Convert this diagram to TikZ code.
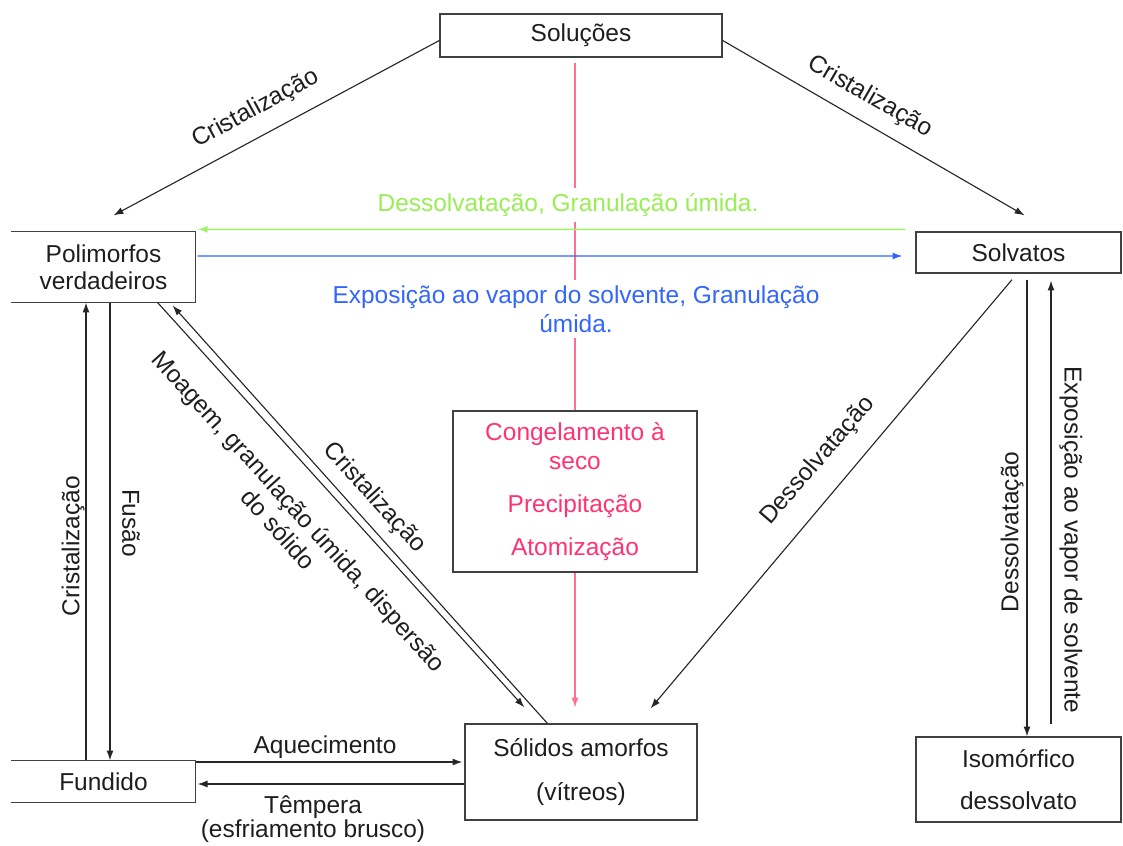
\documentclass[tikz,border=0pt]{standalone}
\usepackage{fontspec}
\setmainfont{Liberation Sans}
\usepackage{xcolor}
\usetikzlibrary{arrows.meta, positioning, calc}

\definecolor{txtgray}{HTML}{1E1E1E}
\definecolor{drygreen}{HTML}{99EE55}
\definecolor{drygreenline}{HTML}{9FF26A}
\definecolor{vaporblue}{HTML}{3366FF}
\definecolor{amorfred}{HTML}{FF3372}
\definecolor{amorfline}{HTML}{FF6F90}

\tikzset{
  box/.style={draw=black!75, line width=0.9pt, align=center, inner sep=0pt, text=txtgray},
  lbl/.style={align=center, inner sep=1pt, text=txtgray},
  arr/.style={-{Latex[length=7pt,width=5pt]}, line width=0.8pt, draw=black!85},
}

\begin{document}
\begin{tikzpicture}[x=0.025cm, y=-0.025cm, font=\fontsize{17.4}{19.5}\selectfont]
    \useasboundingbox (0,0) rectangle (1123,846);

    % States
    \node[box, minimum width=7.05cm, minimum height=1.075cm] (sol) at (581,35.5) {Soluções};
    \node[box, draw=none, minimum width=4.575cm, minimum height=1.75cm] (poli) at (103.5,267) {Polimorfos\\verdadeiros};
    \node[box, minimum width=5.125cm, minimum height=1.025cm] (solv) at (1018.5,252.5) {Solvatos};
    \node[box, text=amorfred, minimum width=6.1cm, minimum height=4.025cm] (cong) at (575,491.5)
        {Congelamento à\\[1pt]seco\\[11pt]Precipitação\\[11pt]Atomização};
    \node[box, minimum width=5.8cm, minimum height=2.4cm] (amorf) at (581,772) {Sólidos amorfos\\[12pt](vítreos)};
    \node[box, draw=none, minimum width=4.575cm, minimum height=1.025cm] (fund) at (103.5,781.5) {Fundido};
    \node[box, minimum width=5.125cm, minimum height=2.125cm] (iso) at (1018.5,779.5) {Isomórfico\\[10.5pt]dessolvato};

    % left boxes are open on the left side
    \draw[black!75, line width=0.9pt] (poli.north west) -- (poli.north east) -- (poli.south east) -- (poli.south west);
    \draw[black!75, line width=0.9pt] (fund.north west) -- (fund.north east) -- (fund.south east) -- (fund.south west);

    % Solutions -> amorphous (through the box)
    \draw[amorfline, line width=0.9pt] ($(sol.south)+(-6,5)$) -- (cong.north);
    \draw[arr, draw=amorfline, color=amorfline] (cong.south) -- ($(amorf.north)+(-6,-16)$);

    % Crystallisation from solutions
    \draw[arr] ($(sol.west)+(0,5)$) -- ($(poli.north)+(10,-16)$);
    \draw[arr] ($(sol.east)+(0,5)$) -- ($(solv.north)+(6,-16)$);
    \node[lbl, rotate=28.5] (c1) at (256,109) {Cristalização};
    \node[lbl, rotate=-30] (c2) at (870,97) {Cristalização};

    % Polymorphs <-> solvates
    \draw[arr, line width=1pt, draw=drygreenline, color=drygreenline] ($(solv.north west)+(-10,-2)$) -- ($(poli.north east)+(2,-2)$);
    \draw[arr, draw=vaporblue, color=vaporblue] ($(poli.east)+(2,-11)$) -- ($(solv.west)+(-13,3.5)$);
    \node[lbl, text=drygreen, fill=white, inner sep=4pt] (dg) at (568,205) {Dessolvatação, Granulação úmida.};
    \node[lbl, text=vaporblue, fill=white, inner sep=4pt, font=\fontsize{17.4}{20.5}\selectfont] (vb) at (576,309)
        {Exposição ao vapor do solvente, Granulação\\úmida.};

    % Polymorphs <-> melt
    \draw[arr] ($(poli.south)+(6.5,0)$) -- ($(fund.north)+(6.5,0)$);
    \draw[arr] ($(fund.north)+(-17.5,0)$) -- ($(poli.south)+(-17.5,0)$);
    \node[lbl, rotate=90] (c3) at (73,546) {Cristalização};
    \node[lbl, rotate=-90] (fus) at (131,523) {Fusão};

    % Polymorphs <-> amorphous
    \draw[arr] ($(poli.south east)+(-38,0)$) -- ($(amorf.north west)+(60,-16)$);
    \draw[arr] ($(amorf.north west)+(83,0)$) -- ($(poli.south east)+(-23,3)$);
    \node[lbl, rotate=-47.8] (moag) at (289,520) {Moagem, granulação úmida, dispersão\\do sólido};
    \node[lbl, rotate=-47.8] (c4) at (374,498) {Cristalização};

    % Solvates -> amorphous
    \draw[arr] ($(solv.south)+(-6.5,6)$) -- ($(amorf.north east)+(-47,-15)$);
    \node[lbl, rotate=49.2] (d1) at (818,461) {Dessolvatação};

    % Solvates <-> isomorphic desolvate
    \draw[arr] ($(solv.south)+(8.5,6)$) -- ($(iso.north)+(8.5,0)$);
    \draw[arr] ($(iso.north)+(32.5,-12)$) -- ($(solv.south)+(32.5,7)$);
    \node[lbl, rotate=90] (d2) at (1012,532) {Dessolvatação};
    \node[lbl, rotate=-90] (exp) at (1071,540) {Exposição ao vapor de solvente};

    % Melt <-> amorphous
    \coordinate (aqin) at ($(amorf.west)+(-2,-10)$);
    \coordinate (tpin) at ($(amorf.west)+(0,12)$);
    \draw[arr] (fund.east |- aqin) -- (aqin);
    \draw[arr] (tpin) -- ($(fund.east |- tpin)+(2,0)$);
    \node[lbl] (aq) at (325,747) {Aquecimento};
    \node[lbl, font=\fontsize{17.4}{17}\selectfont] (temp) at (313,819) {Têmpera\\(esfriamento brusco)};
\end{tikzpicture}
\end{document}
